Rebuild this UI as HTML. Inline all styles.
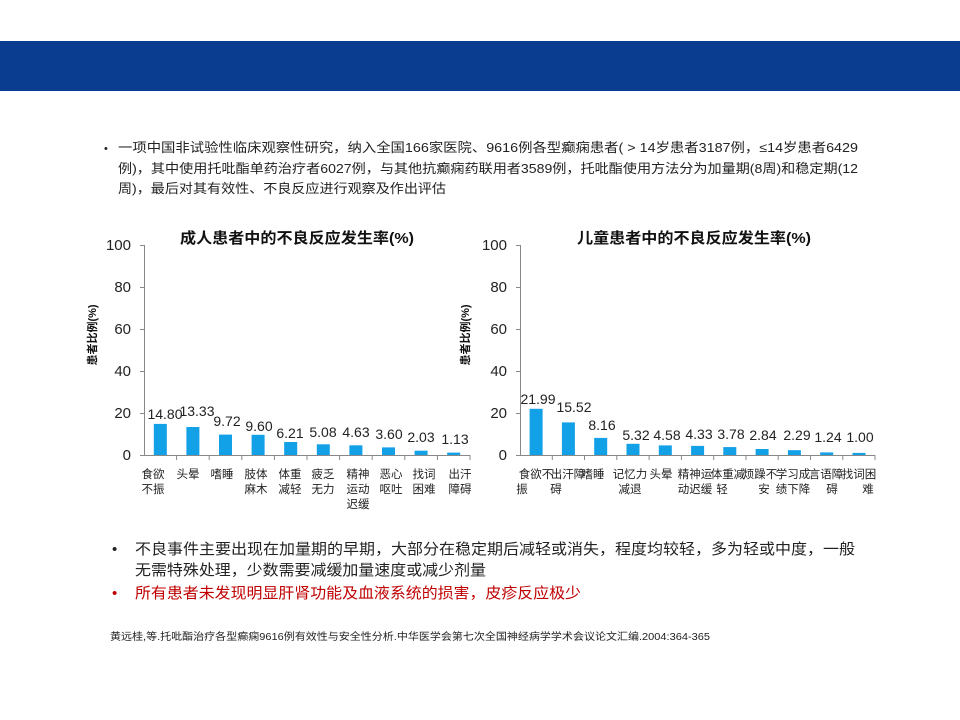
<!DOCTYPE html>
<html><head><meta charset="utf-8"><style>
body{margin:0;background:#fff}
svg{display:block;font-family:"Liberation Sans","Noto Sans CJK SC",sans-serif}
</style></head><body>
<svg width="960" height="720" viewBox="0 0 960 720">
<rect x="0" y="41" width="960" height="50" fill="#0a3d8f"/>
<g font-size="13" fill="#222">
<text x="104" y="152" font-size="11">•</text>
<text x="118" y="152" textLength="740" lengthAdjust="spacingAndGlyphs">一项中国非试验性临床观察性研究，纳入全国166家医院、9616例各型癫痫患者( &gt; 14岁患者3187例，≤14岁患者6429</text>
<text x="118" y="173" textLength="740" lengthAdjust="spacingAndGlyphs">例)，其中使用托吡酯单药治疗者6027例，与其他抗癫痫药联用者3589例，托吡酯使用方法分为加量期(8周)和稳定期(12</text>
<text x="118" y="193" textLength="328" lengthAdjust="spacingAndGlyphs">周)，最后对其有效性、不良反应进行观察及作出评估</text>
</g>
<g font-size="15">
<text x="112" y="554" fill="#222">•</text>
<text x="135" y="554" fill="#222" textLength="720" lengthAdjust="spacingAndGlyphs">不良事件主要出现在加量期的早期，大部分在稳定期后减轻或消失，程度均较轻，多为轻或中度，一般</text>
<text x="135" y="575" fill="#222" textLength="351" lengthAdjust="spacingAndGlyphs">无需特殊处理，少数需要减缓加量速度或减少剂量</text>
<text x="112" y="598" fill="#c00000">•</text>
<text x="135" y="598" fill="#c00000" textLength="446" lengthAdjust="spacingAndGlyphs">所有患者未发现明显肝肾功能及血液系统的损害，皮疹反应极少</text>
</g>
<text x="110" y="640" font-size="10" fill="#222" textLength="600" lengthAdjust="spacingAndGlyphs">黄远桂,等.托吡酯治疗各型癫痫9616例有效性与安全性分析.中华医学会第七次全国神经病学学术会议论文汇编.2004:364-365</text>

<!-- Left chart -->
<text x="180" y="243" font-size="15" font-weight="bold" fill="#111" textLength="234" lengthAdjust="spacingAndGlyphs">成人患者中的不良反应发生率(%)</text>
<text transform="translate(96,335) rotate(-90)" font-size="11" font-weight="bold" text-anchor="middle" fill="#111">患者比例(%)</text>
<g font-size="15" fill="#222" text-anchor="end">
<text x="131" y="250">100</text><text x="131" y="292">80</text><text x="131" y="334">60</text><text x="131" y="376">40</text><text x="131" y="418">20</text><text x="131" y="460">0</text>
</g>
<g stroke="#888" stroke-width="1">
<line x1="144.5" y1="245" x2="144.5" y2="455"/>
<line x1="144" y1="455.5" x2="470" y2="455.5"/>
<line x1="140" y1="245.5" x2="144" y2="245.5"/><line x1="140" y1="287.5" x2="144" y2="287.5"/><line x1="140" y1="329.5" x2="144" y2="329.5"/><line x1="140" y1="371.5" x2="144" y2="371.5"/><line x1="140" y1="413.5" x2="144" y2="413.5"/><line x1="140" y1="455.5" x2="144" y2="455.5"/>
<line x1="176.6" y1="455" x2="176.6" y2="460"/><line x1="209.2" y1="455" x2="209.2" y2="460"/><line x1="241.8" y1="455" x2="241.8" y2="460"/><line x1="274.4" y1="455" x2="274.4" y2="460"/><line x1="307" y1="455" x2="307" y2="460"/><line x1="339.6" y1="455" x2="339.6" y2="460"/><line x1="372.2" y1="455" x2="372.2" y2="460"/><line x1="404.8" y1="455" x2="404.8" y2="460"/><line x1="437.4" y1="455" x2="437.4" y2="460"/><line x1="470" y1="455" x2="470" y2="460"/>
</g>
<g fill="#12a0e6">
<rect x="153.8" y="423.9" width="13" height="31.1"/>
<rect x="186.4" y="427" width="13" height="28"/>
<rect x="219" y="434.6" width="13" height="20.4"/>
<rect x="251.6" y="434.8" width="13" height="20.2"/>
<rect x="284.2" y="442" width="13" height="13"/>
<rect x="316.8" y="444.3" width="13" height="10.7"/>
<rect x="349.4" y="445.3" width="13" height="9.7"/>
<rect x="382" y="447.4" width="13" height="7.6"/>
<rect x="414.6" y="450.7" width="13" height="4.3"/>
<rect x="447.2" y="452.6" width="13" height="2.4"/>
</g>
<g font-size="14" fill="#222" text-anchor="middle">
<text x="165" y="419">14.80</text><text x="197" y="416">13.33</text><text x="227" y="426">9.72</text><text x="259" y="431">9.60</text><text x="290" y="438">6.21</text><text x="323" y="437">5.08</text><text x="356" y="437">4.63</text><text x="389" y="439">3.60</text><text x="421" y="442">2.03</text><text x="455" y="444">1.13</text>
</g>
<g font-size="11.5" fill="#222" text-anchor="middle">
<text x="153" y="478">食欲</text><text x="153" y="493">不振</text>
<text x="188" y="478">头晕</text>
<text x="222" y="478">嗜睡</text>
<text x="256" y="478">肢体</text><text x="256" y="493">麻木</text>
<text x="290" y="478">体重</text><text x="290" y="493">减轻</text>
<text x="323" y="478">疲乏</text><text x="323" y="493">无力</text>
<text x="358" y="478">精神</text><text x="358" y="493">运动</text><text x="358" y="508">迟缓</text>
<text x="391" y="478">恶心</text><text x="391" y="493">呕吐</text>
<text x="424" y="478">找词</text><text x="424" y="493">困难</text>
<text x="460" y="478">出汗</text><text x="460" y="493">障碍</text>
</g>

<!-- Right chart -->
<text x="577" y="243" font-size="15" font-weight="bold" fill="#111" textLength="234" lengthAdjust="spacingAndGlyphs">儿童患者中的不良反应发生率(%)</text>
<text transform="translate(469,335) rotate(-90)" font-size="11" font-weight="bold" text-anchor="middle" fill="#111">患者比例(%)</text>
<g font-size="15" fill="#222" text-anchor="end">
<text x="507" y="250">100</text><text x="507" y="292">80</text><text x="507" y="334">60</text><text x="507" y="376">40</text><text x="507" y="418">20</text><text x="507" y="460">0</text>
</g>
<g stroke="#888" stroke-width="1">
<line x1="520.5" y1="245" x2="520.5" y2="455"/>
<line x1="520" y1="455.5" x2="875" y2="455.5"/>
<line x1="516" y1="245.5" x2="520" y2="245.5"/><line x1="516" y1="287.5" x2="520" y2="287.5"/><line x1="516" y1="329.5" x2="520" y2="329.5"/><line x1="516" y1="371.5" x2="520" y2="371.5"/><line x1="516" y1="413.5" x2="520" y2="413.5"/><line x1="516" y1="455.5" x2="520" y2="455.5"/>
<line x1="552.3" y1="455" x2="552.3" y2="460"/><line x1="584.5" y1="455" x2="584.5" y2="460"/><line x1="616.8" y1="455" x2="616.8" y2="460"/><line x1="649.1" y1="455" x2="649.1" y2="460"/><line x1="681.4" y1="455" x2="681.4" y2="460"/><line x1="713.7" y1="455" x2="713.7" y2="460"/><line x1="746" y1="455" x2="746" y2="460"/><line x1="778.2" y1="455" x2="778.2" y2="460"/><line x1="810.5" y1="455" x2="810.5" y2="460"/><line x1="842.8" y1="455" x2="842.8" y2="460"/><line x1="875" y1="455" x2="875" y2="460"/>
</g>
<g fill="#12a0e6">
<rect x="529.6" y="408.8" width="13" height="46.2"/>
<rect x="561.9" y="422.4" width="13" height="32.6"/>
<rect x="594.2" y="437.9" width="13" height="17.1"/>
<rect x="626.5" y="443.8" width="13" height="11.2"/>
<rect x="658.8" y="445.4" width="13" height="9.6"/>
<rect x="691.1" y="445.9" width="13" height="9.1"/>
<rect x="723.3" y="447.1" width="13" height="7.9"/>
<rect x="755.6" y="449" width="13" height="6"/>
<rect x="787.9" y="450.2" width="13" height="4.8"/>
<rect x="820.2" y="452.4" width="13" height="2.6"/>
<rect x="852.5" y="452.9" width="13" height="2.1"/>
</g>
<g font-size="14" fill="#222" text-anchor="middle">
<text x="538" y="404">21.99</text><text x="574" y="412">15.52</text><text x="602" y="430">8.16</text><text x="636" y="440">5.32</text><text x="667" y="440">4.58</text><text x="699" y="439">4.33</text><text x="731" y="439">3.78</text><text x="763" y="440">2.84</text><text x="797" y="440">2.29</text><text x="828" y="442">1.24</text><text x="860" y="442">1.00</text>
</g>
<g font-size="11.5" fill="#222" text-anchor="middle">
<text x="536" y="478">食欲不</text><text x="522" y="493">振</text>
<text x="568" y="478">出汗障</text><text x="556" y="493">碍</text>
<text x="593" y="478">嗜睡</text>
<text x="630" y="478">记忆力</text><text x="630" y="493">减退</text>
<text x="661" y="478">头晕</text>
<text x="695" y="478">精神运</text><text x="695" y="493">动迟缓</text>
<text x="728" y="478">体重减</text><text x="722" y="493">轻</text>
<text x="760" y="478">烦躁不</text><text x="764" y="493">安</text>
<text x="793" y="478">学习成</text><text x="793" y="493">绩下降</text>
<text x="826" y="478">言语障</text><text x="832" y="493">碍</text>
<text x="859" y="478">找词困</text><text x="868" y="493">难</text>
</g>
</svg>
</body></html>
